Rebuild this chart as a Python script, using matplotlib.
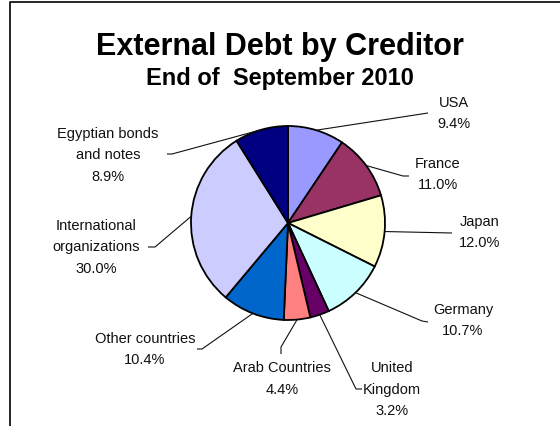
import numpy as np
import matplotlib.pyplot as plt

plt.rcParams['font.family'] = ['Liberation Sans', 'DejaVu Sans']

# ---------------- Daten ----------------
creditors = ["USA", "France", "Japan", "Germany", "United\nKingdom", "Arab Countries",
             "Other countries", "International\norganizations", "Egyptian bonds\nand notes"]
shares = [9.4, 11.0, 12.0, 10.7, 3.2, 4.4, 10.4, 30.0, 8.9]
colors = ['#9999FF', '#993366', '#FFFFCC', '#CCFFFF', '#660066', '#FF8080',
          '#0066CC', '#CCCCFF', '#000080']

# ---------------- Layout (Pixel, y nach unten) ----------------
W, H = 560, 427
center = (288, 224)
radius = 97
label_pos = [(454, 113.5), (438, 174.5), (480, 232.5), (463, 320.5), (392, 390),
             (282, 379), (145, 349.5), (96, 247.5), (108, 155.5)]
# Knickpunkte der Führungslinien
leader_pts = [[(428, 114)],
              [(403, 177), (409, 177)],
              [(452, 234)],
              [(422, 322), (428, 323)],
              [(356, 390), (362, 390)],
              [(281, 348), (281, 355)],
              [(202, 350), (197, 350)],
              [(155, 248), (148, 248)],
              [(172, 155), (167, 155)]]
line_pitch = 21.5

fig = plt.figure(figsize=(W / 100, H / 100), dpi=100)
ax = fig.add_axes([0, 0, 1, 1])

# y-Achse invertiert -> startangle -90 ist oben, counterclock=True läuft optisch im Uhrzeigersinn
wedges, _ = ax.pie(shares, colors=colors, startangle=-90, counterclock=True,
                   center=center, radius=radius,
                   wedgeprops=dict(edgecolor='black', linewidth=1.3))
ax.set_xlim(0, W)
ax.set_ylim(H, 0)
ax.set_aspect('equal')
ax.axis('off')

# ---------------- Beschriftungen + Führungslinien ----------------
for w, name, val, (cx, cy), pts in zip(wedges, creditors, shares, label_pos, leader_pts):
    mid = np.radians((w.theta1 + w.theta2) / 2)
    ex = center[0] + radius * np.cos(mid)
    ey = center[1] + radius * np.sin(mid)
    xs = [ex] + [p[0] for p in pts]
    ys = [ey] + [p[1] for p in pts]
    ax.plot(xs, ys, color='#111111', lw=0.8, solid_capstyle='butt')

    lines = name.split('\n') + [f"{val:.1f}%"]
    y0 = cy - (len(lines) - 1) * line_pitch / 2
    for i, txt in enumerate(lines):
        ax.text(cx, y0 + i * line_pitch, txt, ha='center', va='center',
                fontsize=10.5, color='#111111')

# ---------------- Titel ----------------
ax.text(280, 47, "External Debt by Creditor", ha='center', va='center',
        fontsize=22, fontweight='bold', color='black')
ax.text(280, 78, "End of  September 2010", ha='center', va='center',
        fontsize=17, fontweight='bold', color='black')

# Rahmen (rechts und unten abgeschnitten)
ax.plot([10, 10, W], [H, 3, 3], color='black', lw=1.2, clip_on=False)

fig.savefig('out.png', dpi=100)
